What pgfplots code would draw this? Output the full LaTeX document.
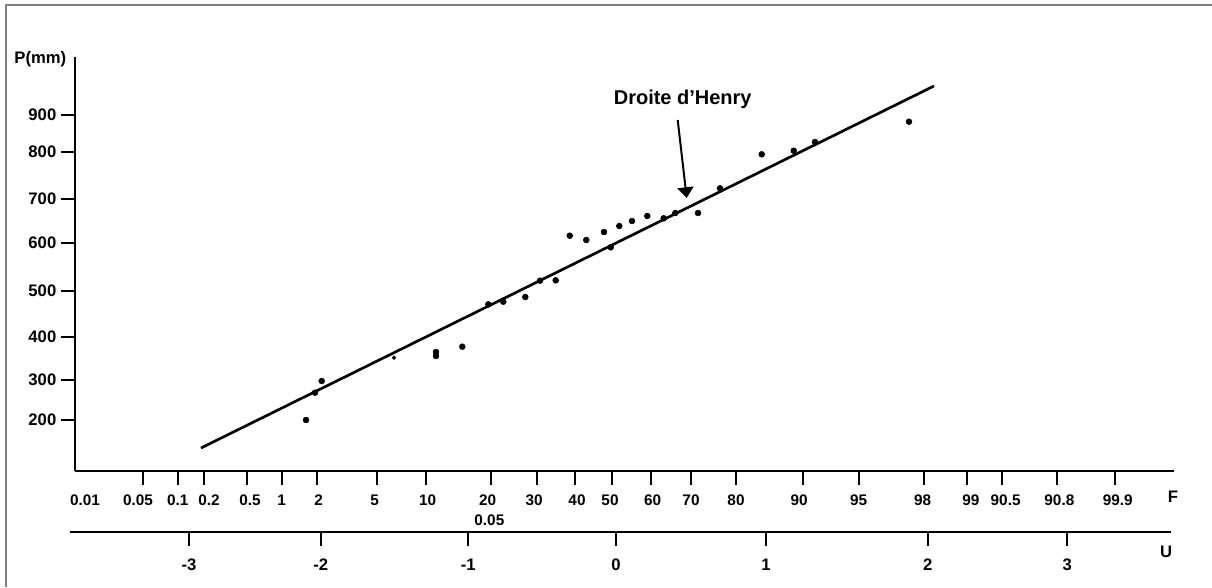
\documentclass[border=0pt]{standalone}
\usepackage{fontspec}
\setmainfont{Liberation Sans}
\usepackage{pgfplots}
\pgfplotsset{compat=1.18}
\usetikzlibrary{arrows.meta}
\newcommand{\lblfont}{\bfseries\fontsize{12.5}{14}\selectfont}
\newcommand{\flblfont}{\bfseries\fontsize{11.5}{13}\selectfont}
% tick label moved sideways by half of #1
\newcommand{\sh}[2]{\makebox[0pt]{\hspace*{#1}#2}}
\begin{document}
\begin{tikzpicture}
\begin{axis}[
  name=main,
  x=111pt, y=0.340909pt,
  xmin=-3.6554, xmax=3.7703, ymin=96.6, ymax=1007.4,
  axis x line=bottom, axis y line=left,
  axis line style={-, line width=1.9pt},
  tick align=outside,
  major tick length=10.5pt,
  every tick/.style={black, line width=1.5pt},
  xtick={-3.198,-2.9615,-2.7838,-2.4932,-2.2588,-2.0223,-1.6169,-1.2858,-0.8466,-0.5358,-0.2770,-0.0270,0.2345,0.5068,0.8108,1.2615,1.6399,2.0831,2.3736,2.6101,2.9777,3.3716},
  xticklabels={\sh{-7pt}{0.05},0.1,\sh{7.5pt}{0.2},\sh{4.5pt}{0.5},1,\sh{3pt}{2},\sh{-3pt}{5},\sh{3pt}{10},\sh{-4.5pt}{20},\sh{-4pt}{30},\sh{3pt}{40},\sh{-3pt}{50},\sh{3pt}{60},70,80,\sh{-5.5pt}{90},95,\sh{-2.5pt}{98},\sh{5.5pt}{99},\sh{5pt}{90.5},\sh{4pt}{90.8},\sh{4pt}{99.9}},
  extra x ticks={-3.5878}, extra x tick labels={0.01},
  extra x tick style={major tick length=0pt, xticklabel style={yshift=-10.5pt}},
  ytick={208.8,296.8,391.4,492.6,598.2,695,798.4,879.8},
  yticklabels={200,300,400,500,600,700,800,900},
  yticklabel style={font=\lblfont},
  xticklabel style={yshift=-3.8pt, font=\flblfont},
  clip=false,
  xlabel={F}, ylabel={P(mm)},
  every axis x label/.style={at={(axis description cs:1,0)}, anchor=center, xshift=-0.75pt, yshift=-19.5pt, font=\lblfont},
  every axis y label/.style={at={(axis description cs:0,1)}, anchor=east, xshift=-3pt, yshift=-1.5pt, font=\lblfont},
]
\addplot[black, line width=2pt, no marks] coordinates {(-2.8041,147.2) (2.1486,943.6)};
\addplot[only marks, mark=*, mark size=2.2pt, black] coordinates {
(-2.0946,208.8) (-2.0338,268.9) (-1.9885,294.6) (-1.2162,358.4) (-1.2162,349.6)
(-1.0385,370.1) (-0.8628,463.3) (-0.7615,469.1) (-0.6128,479.4) (-0.5135,515.3)
(-0.4074,516.1) (-0.3128,614.3) (-0.2007,604.8) (-0.0811,622.4) (-0.0358,588.7)
(0.0223,635.6) (0.1081,646.6) (0.2115,657.6) (0.3223,652.5) (0.4007,664.2)
(0.5541,664.2) (0.7027,718.5) (0.9845,793.3) (1.2007,801.3) (1.3446,820.4)
(1.9797,865.1)};
\addplot[only marks, mark=*, mark size=1.4pt, black] coordinates {(-1.5,345.9)};
\draw[-{Triangle[length=8pt,width=12pt]}, line width=1.5pt] (axis cs:0.4169,868.8) -- (axis cs:0.4777,697.2);
\node[font=\bfseries\fontsize{15}{17}\selectfont] at (axis cs:0.4507,914.3) {Droite d'Henry};
\node[font=\flblfont, anchor=center, xshift=-1pt, yshift=-36.75pt] at (axis cs:-0.8466,96.6) {0.05};
\end{axis}
\begin{axis}[
  at={(-3.75pt,-45.75pt)}, anchor=south west,
  x=111pt, y=1pt,
  xmin=-3.6892, xmax=3.75, ymin=0, ymax=1,
  axis x line=bottom, axis y line=none,
  axis line style={-, line width=1.9pt},
  tick align=outside,
  major tick length=10.5pt,
  every tick/.style={black, line width=1.5pt},
  xtick={-2.8851,-1.9953,-0.998,0,1.0135,2.1061,3.0493},
  xticklabels={-3,-2,-1,0,1,2,3},
  xticklabel style={yshift=-6pt, font=\lblfont},
  clip=false,
  xlabel={U},
  every axis x label/.style={at={(axis description cs:1,0)}, anchor=center, xshift=-3.75pt, yshift=-15pt, font=\lblfont},
]
\end{axis}
\draw[gray, line width=1.5pt] (-51.75pt,-87pt) -- (-51.75pt,349.5pt) -- (852.75pt,349.5pt);
\pgfresetboundingbox
\path[use as bounding box] (-56.25pt,-87pt) rectangle (852.75pt,353.25pt);
\end{tikzpicture}
\end{document}
